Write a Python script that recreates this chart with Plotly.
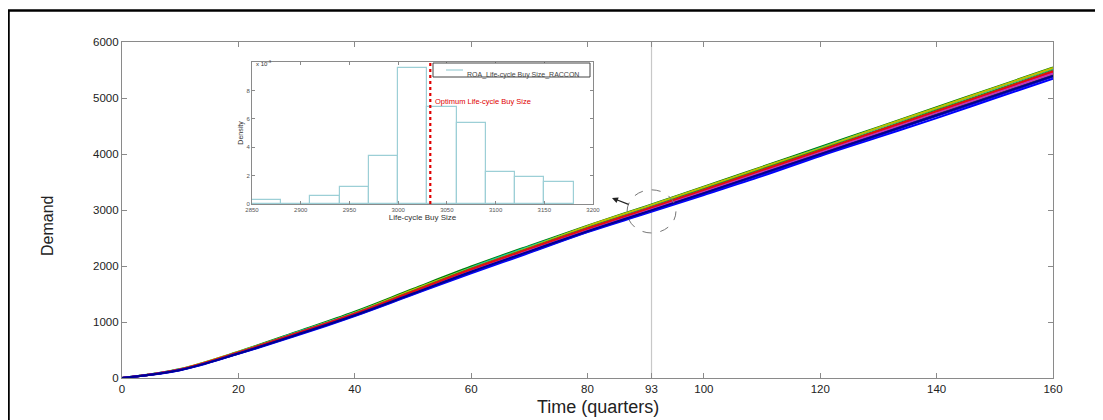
import plotly.graph_objects as go

# ---- data ----
TIME = [0, 10, 20, 30, 40, 50, 60, 70, 80, 90, 100, 110, 120, 130, 140, 150, 160]

RUN_A = [0, 138, 432, 756, 1108, 1490, 1868, 2234, 2605, 2935, 3268, 3605, 3965, 4302, 4640, 4995, 5345]
RUN_B = [0, 160, 470, 822, 1185, 1590, 1990, 2360, 2720, 3065, 3415, 3770, 4125, 4480, 4835, 5190, 5545]
RUN_C = [0, 156, 462, 812, 1168, 1565, 1972, 2345, 2700, 3050, 3398, 3752, 4110, 4462, 4815, 5172, 5525]
RUN_D = [0, 158, 466, 805, 1160, 1572, 1960, 2330, 2712, 3055, 3405, 3760, 4100, 4470, 4822, 5180, 5535]
RUN_E = [0, 152, 455, 800, 1150, 1550, 1950, 2318, 2680, 3020, 3372, 3725, 4075, 4425, 4780, 5135, 5490]
RUN_F = [0, 150, 452, 795, 1148, 1540, 1940, 2305, 2668, 3008, 3355, 3702, 4058, 4405, 4756, 5105, 5468]
RUN_G = [0, 146, 440, 778, 1125, 1518, 1910, 2275, 2635, 2975, 3318, 3668, 4015, 4362, 4712, 5060, 5410]
RUN_H = [0, 149, 448, 790, 1138, 1535, 1932, 2300, 2660, 3000, 3345, 3698, 4046, 4398, 4750, 5102, 5460]
RUN_I = [0, 147, 445, 785, 1140, 1528, 1925, 2290, 2652, 2990, 3338, 3685, 4035, 4385, 4738, 5088, 5440]
RUN_J = [0, 153, 458, 798, 1150, 1545, 1942, 2310, 2670, 3012, 3360, 3712, 4062, 4415, 4765, 5118, 5478]
RUN_K = [0, 151, 450, 792, 1142, 1538, 1935, 2302, 2662, 3004, 3350, 3700, 4052, 4402, 4755, 5110, 5475]
RUN_L = [0, 142, 436, 768, 1115, 1500, 1888, 2250, 2612, 2950, 3290, 3635, 3985, 4330, 4678, 5025, 5380]
RUN_M = [0, 144, 438, 772, 1120, 1508, 1898, 2262, 2622, 2962, 3302, 3650, 3998, 4345, 4692, 5042, 5395]

# drawing order (first = underneath) and matlab-style colours
RUNS = [RUN_B, RUN_C, RUN_D, RUN_E, RUN_K, RUN_G, RUN_F, RUN_H, RUN_I, RUN_J, RUN_A, RUN_L, RUN_M]
RUN_COLORS = ["#008000", "#00bfbf", "#bfbf00", "#1a9a1a", "#3cc8c8", "#404040",
              "#bf00bf", "#ff0000", "#c030c0", "#e01010", "#0000ff", "#1010e0", "#000090"]

X_TICKS = [0, 20, 40, 60, 80, 91, 100, 120, 140, 160]
X_TICK_TEXT = ["0", "20", "40", "60", "80", "93", "100", "120", "140", "160"]
Y_TICKS = [0, 1000, 2000, 3000, 4000, 5000, 6000]
MARK_QUARTER = 91

# inset histogram (density of life-cycle buy size)
BIN_LEFT = [2850, 2880, 2910, 2940, 2970, 3000, 3030, 3060, 3090, 3120, 3150]
BIN_WIDTH = 30
DENSITY = [0.00028, 0.0, 0.00056, 0.0012, 0.0034, 0.0096, 0.0068, 0.0057, 0.00225, 0.0019, 0.00155]
OPTIMUM_SIZE = 3033
INSET_X_TICKS = [2850, 2900, 2950, 3000, 3050, 3100, 3150, 3200]
INSET_Y_TICKS = [0, 0.002, 0.004, 0.006, 0.008]
INSET_Y_TEXT = ["0", "2", "4", "6", "8"]

FONT = "Liberation Sans, Arial, sans-serif"
AXIS_GREY = "#8a8a8a"

# page pixels -> paper coords (plot area on the page: x 122..1053, y 42..378)
def px_x(p):
    return (p - 122) / 931

def px_y(p):
    return (378 - p) / 336


fig = go.Figure()

for run, col in zip(RUNS, RUN_COLORS):
    fig.add_trace(go.Scatter(x=TIME, y=run, mode="lines", line=dict(color=col, width=2, shape="spline"),
                             showlegend=False, hoverinfo="skip"))

fig.add_trace(go.Bar(x=BIN_LEFT, y=DENSITY, width=BIN_WIDTH, offset=0, xaxis="x2", yaxis="y2",
                     marker=dict(color="white", line=dict(color="#9ccfd6", width=1.2)),
                     showlegend=False))

# the html body has an 8px margin, so the figure is shifted by that amount
fig.update_layout(
    width=1095, height=412,
    margin=dict(l=114, r=50, t=34, b=42),
    paper_bgcolor="white", plot_bgcolor="white",
    font=dict(family=FONT, color="#222"),
    bargap=0,
    xaxis=dict(range=[0, 160], tickvals=X_TICKS, ticktext=X_TICK_TEXT, ticks="inside", ticklen=5,
               tickcolor=AXIS_GREY, showline=True, linecolor=AXIS_GREY, linewidth=1.2, mirror="ticks",
               showgrid=False, zeroline=False, tickfont=dict(size=11.5)),
    yaxis=dict(range=[0, 6000], tickvals=Y_TICKS, ticks="inside", ticklen=5,
               tickcolor=AXIS_GREY, showline=True, linecolor=AXIS_GREY, linewidth=1.2, mirror="ticks",
               showgrid=False, zeroline=False, tickfont=dict(size=11.5)),
    xaxis2=dict(domain=[px_x(252), px_x(593)], anchor="y2", range=[2850, 3200], tickvals=INSET_X_TICKS,
                ticks="inside", ticklen=3, tickcolor=AXIS_GREY, showline=True, linecolor=AXIS_GREY,
                mirror="ticks", showgrid=False, zeroline=False, tickfont=dict(size=6, color="#555"),
                title=dict(text="Life-cycle Buy Size", font=dict(size=8, color="#333"), standoff=2)),
    yaxis2=dict(domain=[px_y(204), px_y(62)], anchor="x2", range=[0, 0.01], tickvals=INSET_Y_TICKS,
                ticktext=INSET_Y_TEXT, ticks="inside", ticklen=3, tickcolor=AXIS_GREY, showline=True,
                linecolor=AXIS_GREY, mirror="ticks", showgrid=False, zeroline=False,
                tickfont=dict(size=6, color="#555"),
                title=dict(text="Density", font=dict(size=7, color="#333"), standoff=2)),
)

# main axis titles
fig.add_annotation(x=px_x(47), y=px_y(226), xref="paper", yref="paper", xanchor="center", yanchor="middle",
                   textangle=-90, showarrow=False, text="Demand", font=dict(size=16, color="#222"))
fig.add_annotation(x=px_x(598), y=px_y(407), xref="paper", yref="paper", xanchor="center", yanchor="middle",
                   showarrow=False, text="Time (quarters)", font=dict(size=18, color="#222"))

# quarter marker line
fig.add_shape(type="line", x0=MARK_QUARTER, x1=MARK_QUARTER, y0=0, y1=6000, xref="x", yref="y",
              line=dict(color="#c8c8c8", width=1.2), layer="below")
# dashed circle at the marker
fig.add_shape(type="circle", x0=MARK_QUARTER - 4.2, x1=MARK_QUARTER + 4.2, y0=2590, y1=3360,
              xref="x", yref="y", line=dict(color="#777", width=1, dash="dash"))
fig.add_annotation(x=px_x(612), y=px_y(198), xref="paper", yref="paper", ax=18, ay=7,
                   showarrow=True, arrowhead=2, arrowsize=1, arrowwidth=1.2, arrowcolor="#222", text="")

# optimum line in inset
fig.add_shape(type="line", x0=OPTIMUM_SIZE, x1=OPTIMUM_SIZE, y0=0, y1=0.01, xref="x2", yref="y2",
              line=dict(color="#e00000", width=2.2, dash="dot"))
fig.add_annotation(x=OPTIMUM_SIZE + 3, y=0.0072, xref="x2", yref="y2", xanchor="left", showarrow=False,
                   text="Optimum Life-cycle Buy Size", font=dict(size=7.5, color="#e00000"))
fig.add_annotation(x=px_x(254), y=px_y(57), xref="paper", yref="paper", xanchor="left", showarrow=False,
                   text="x 10<sup>-3</sup>", font=dict(size=6, color="#333"))

# inset legend
fig.add_shape(type="rect", x0=px_x(433), x1=px_x(590), y0=px_y(77), y1=px_y(63), xref="paper", yref="paper",
              line=dict(color="#444", width=1), fillcolor="white")
fig.add_shape(type="line", x0=px_x(446), x1=px_x(463), y0=px_y(70), y1=px_y(70), xref="paper", yref="paper",
              line=dict(color="#9ccfd6", width=1.2))
fig.add_annotation(x=px_x(465), y=px_y(69), xref="paper", yref="paper", xanchor="left", showarrow=False,
                   text="ROA_Life-cycle Buy Size_RACCON", font=dict(size=7, color="#444"))

# outer frame (right and bottom edges fall outside the picture)
fig.add_shape(type="rect", x0=px_x(8.5), x1=px_x(1112), y0=px_y(432), y1=px_y(10.5), xref="paper", yref="paper",
              line=dict(color="black", width=2.5))

fig.write_html("out.html")
